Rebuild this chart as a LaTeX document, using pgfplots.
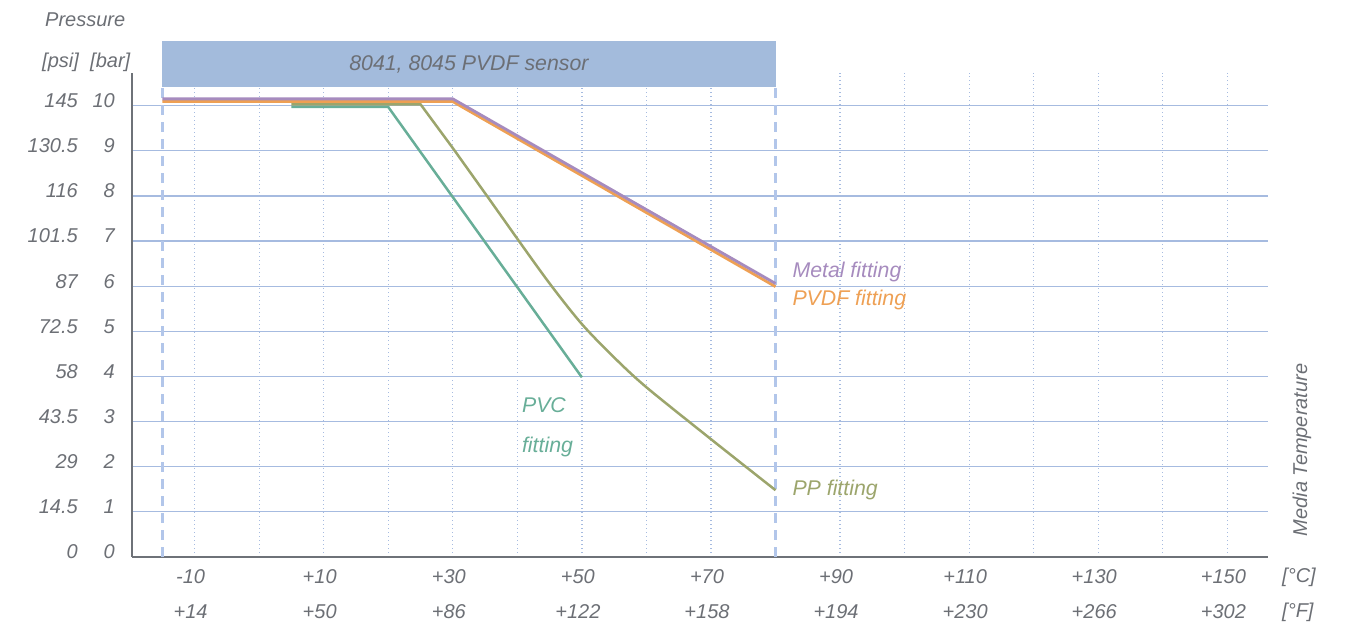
\documentclass[border=0pt]{standalone}
\usepackage{pgfplots}
\pgfplotsset{compat=1.18}
\usepackage{fontspec}
\setmainfont{Liberation Sans}
\definecolor{txt}{RGB}{108,111,117}
\definecolor{axisgray}{RGB}{110,114,120}
\definecolor{gridblue}{RGB}{166,187,224}
\definecolor{dashblue}{RGB}{178,198,234}
\definecolor{boxblue}{RGB}{163,187,220}
\definecolor{metal}{RGB}{166,139,190}
\definecolor{pvdf}{RGB}{238,160,84}
\definecolor{pvc}{RGB}{104,174,152}
\definecolor{pp}{RGB}{156,165,108}
\newcommand\lf{\fontsize{20}{24}\selectfont\itshape}
\newcommand\lgf{\fontsize{21.3}{25}\selectfont\itshape}
\newcommand\yl[2]{\makebox[60pt][r]{#1}\makebox[37pt][r]{#2}}
\begin{document}
\begin{tikzpicture}
\useasboundingbox (0,0) rectangle (1349pt,628pt);
\begin{axis}[
  at={(132pt,71pt)}, anchor=south west,
  scale only axis, width=1136pt, height=484.3pt,
  xmin=-19.7, xmax=156.3, ymin=0, ymax=10.73,
  clip=false,
  axis x line*=bottom, axis y line*=left,
  axis line style={draw=axisgray, line width=1.6pt, -},
  xtick={-10,10,...,150},
  xticklabels={{-10\\+14},{+10\\+50},{+30\\+86},{+50\\+122},{+70\\+158},{+90\\+194},{+110\\+230},{+130\\+266},{+150\\+302}},
  minor xtick={0,20,40,60,100,120,140},
  ytick={0,1,...,10},
  yticklabels={{\yl{0}{0}},{\yl{14.5}{1}},{\yl{29}{2}},{\yl{43.5}{3}},{\yl{58}{4}},{\yl{72.5}{5}},{\yl{87}{6}},{\yl{101.5}{7}},{\yl{116}{8}},{\yl{130.5}{9}},{\yl{145}{10}}},
  major tick length=0pt, minor tick length=0pt,
  xmajorgrids, xminorgrids, ymajorgrids,
  major grid style={}, minor grid style={},
  x grid style={draw=gridblue, line width=1.3pt, dash pattern=on 1.4pt off 2.6pt},
  y grid style={draw=gridblue, line width=1.2pt},
  tick label style={text=txt},
  xticklabel style={align=center, font=\fontsize{20}{35}\selectfont\itshape, anchor=north, inner sep=0pt, yshift=-12pt, xshift=-4pt},
  yticklabel style={anchor=east, inner sep=0pt, xshift=-17pt, yshift=5pt, font=\lf},
]
\draw[dashblue, line width=2.5pt, dash pattern=on 10pt off 7pt] (axis cs:-15,0) -- (axis cs:-15,10.41);
\draw[dashblue, line width=2.5pt, dash pattern=on 10pt off 7pt] (axis cs:80,0) -- (axis cs:80,10.41);
\fill[boxblue] (axis cs:-15,10.41) rectangle (axis cs:80,11.43);
\node[text=txt, font=\lgf] at (axis cs:32.5,10.92) {8041, 8045 PVDF sensor};

\addplot[pvc, line width=2.5pt] coordinates {(5,9.97) (20,9.97) (50,3.98)};
\addplot[pp, line width=2.5pt] coordinates {(5,10.03) (25,10.03) (30,9.06) (35,8.06) (40,7.05)};
\addplot[pp, line width=2.5pt, smooth, tension=0.5] coordinates {(40,7.05) (45,6.06) (50,5.16) (55,4.42) (60,3.76) (70,2.61) (80,1.48)};
\addplot[pvdf, line width=2.8pt] coordinates {(-15,10.09) (30,10.09) (80,5.99)};
\addplot[metal, line width=2.8pt] coordinates {(-15,10.15) (30,10.15) (80,6.06)};

\node[anchor=west, inner sep=0pt, text=metal, font=\lgf] at (axis cs:82.6,6.32) {Metal fitting};
\node[anchor=west, inner sep=0pt, text=pvdf, font=\lgf] at (axis cs:82.6,5.69) {PVDF fitting};
\node[anchor=west, inner sep=0pt, text=pp, font=\lgf] at (axis cs:82.6,1.48) {PP fitting};
\node[anchor=west, inner sep=0pt, text=pvc, font=\lgf] at (axis cs:40.7,3.37) {PVC};
\node[anchor=west, inner sep=0pt, text=pvc, font=\lgf] at (axis cs:40.7,2.44) {fitting};
\end{axis}
\node[anchor=west, inner sep=0pt, text=txt, font=\lf] at (45pt,608pt) {Pressure};
\node[anchor=west, inner sep=0pt, text=txt, font=\lf] at (42pt,566pt) {[psi]};
\node[anchor=west, inner sep=0pt, text=txt, font=\lf] at (90pt,566pt) {[bar]};
\node[anchor=west, inner sep=0pt, text=txt, font=\lf] at (1282pt,51pt) {[°C]};
\node[anchor=west, inner sep=0pt, text=txt, font=\lf] at (1282pt,16pt) {[°F]};
\node[rotate=90, inner sep=0pt, text=txt, font=\lf] at (1302pt,178pt) {Media Temperature};
\end{tikzpicture}
\end{document}
